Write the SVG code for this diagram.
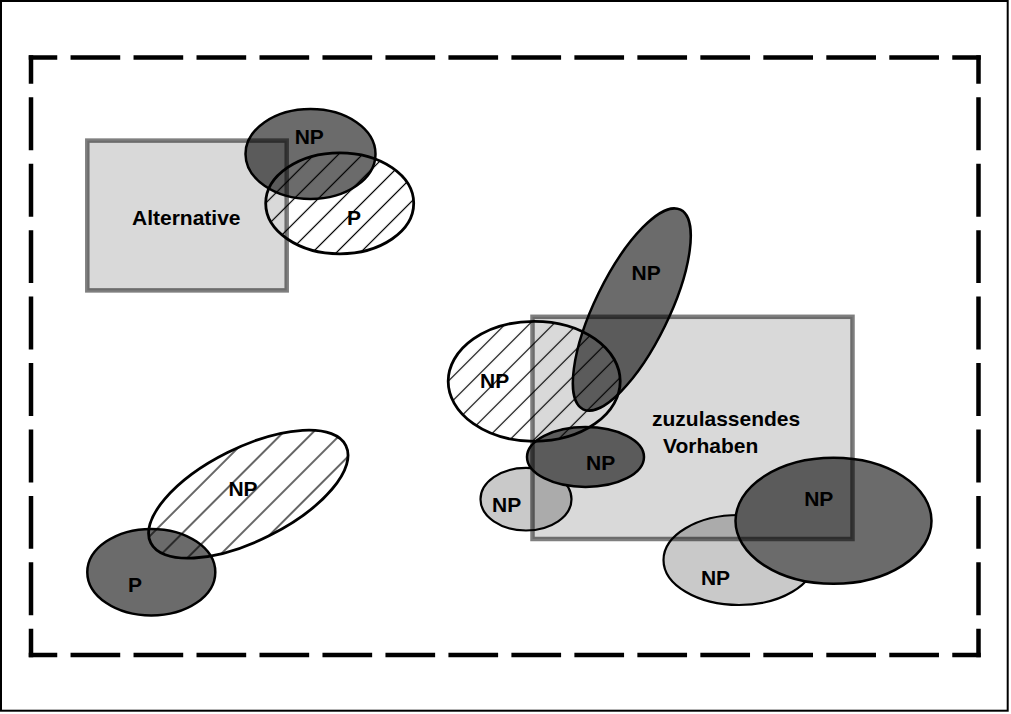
<svg xmlns="http://www.w3.org/2000/svg" width="1011" height="714" viewBox="0 0 1011 714">
<defs>
<pattern id="hatch" patternUnits="userSpaceOnUse" width="17" height="17" patternTransform="rotate(45)">
<line x1="8.5" y1="0" x2="8.5" y2="17" stroke="#000" stroke-width="1.2"/>
</pattern>
<pattern id="hatch-wide" patternUnits="userSpaceOnUse" width="21" height="21" patternTransform="rotate(45)">
<line x1="2" y1="0" x2="2" y2="21" stroke="#000" stroke-width="1.2"/>
</pattern>
</defs>
<style>
.frame{fill:none;stroke:#000;stroke-width:2}
.dash{stroke:#000;stroke-width:4.5;fill:none}
.light{fill:#c9c9c9;stroke:#000;stroke-width:2.2}
.dark{fill:#6b6b6b;stroke:#000;stroke-width:2.5}
.hatched{fill:url(#hatch);stroke:#000;stroke-width:2.8}
.hatched-wide{fill:url(#hatch-wide);stroke:#000;stroke-width:2.8}
.area{fill:#000;fill-opacity:0.15;stroke:#000;stroke-opacity:0.5;stroke-width:4.5}
text{font-family:"Liberation Sans",Arial,sans-serif;font-weight:bold;font-size:21px;fill:#000}
.m{text-anchor:middle}
</style>
<rect width="1011" height="714" fill="#fff"/>
<rect class="frame" x="1" y="1" width="1006.7" height="709.7"/>
<g id="boundary">
<line class="dash" x1="28.75" y1="57.5" x2="980.75" y2="57.5" stroke-dasharray="49.68 13.3" stroke-dashoffset="21.18"/>
<line class="dash" x1="28.75" y1="655" x2="980.75" y2="655" stroke-dasharray="49.68 13.3" stroke-dashoffset="21.18"/>
<line class="dash" x1="31" y1="55.25" x2="31" y2="657.25" stroke-dasharray="52.94 13.5" stroke-dashoffset="24.44"/>
<line class="dash" x1="978.5" y1="55.25" x2="978.5" y2="657.25" stroke-dasharray="52.94 13.5" stroke-dashoffset="24.44"/>
</g>
<g id="connectors"/>
<g id="np-light-small">
<ellipse class="light" cx="526" cy="499.2" rx="45.5" ry="31.3"/>
<text class="m" x="506.7" y="511.7">NP</text>
</g>
<g id="np-light-bottom">
<ellipse class="light" cx="739" cy="560" rx="75.5" ry="45"/>
<text class="m" x="715.5" y="585">NP</text>
</g>
<g id="np-dark-topleft">
<ellipse class="dark" cx="310.5" cy="154" rx="65" ry="45"/>
<text class="m" x="309.3" y="144.3">NP</text>
</g>
<g id="np-dark-tall">
<ellipse class="dark" cx="631.8" cy="309.5" rx="37" ry="111" transform="rotate(26 631.8 309.5)"/>
<text class="m" x="646.2" y="280">NP</text>
</g>
<g id="np-dark-mid">
<ellipse class="dark" cx="585.5" cy="457" rx="58.5" ry="30"/>
<text class="m" x="600.7" y="470">NP</text>
</g>
<g id="np-dark-bottomright">
<ellipse class="dark" cx="833.5" cy="520.8" rx="98" ry="63"/>
<text class="m" x="818.8" y="506">NP</text>
</g>
<g id="p-dark-bottomleft">
<ellipse class="dark" cx="151.3" cy="572.2" rx="64" ry="43.3"/>
<text class="m" x="135" y="591.7">P</text>
</g>
<g id="p-hatched-topleft">
<ellipse class="hatched" cx="339.7" cy="203.3" rx="74" ry="50.5"/>
<text class="m" x="354" y="225">P</text>
</g>
<g id="np-hatched-right">
<ellipse class="hatched" cx="534.2" cy="381.3" rx="86" ry="60"/>
<text class="m" x="494.7" y="388.3">NP</text>
</g>
<g id="np-hatched-bottomleft">
<path class="hatched-wide" d="M150.75 542.84 A109 46.5 -26.5 1 1 345.85 445.56 A109 46.5 -26.5 1 1 150.75 542.84 Z"/>
<text class="m" x="243" y="496">NP</text>
</g>
<g id="alternative">
<rect class="area" x="87.3" y="140.6" width="199.4" height="149.8"/>
<text x="132" y="225">Alternative</text>
</g>
<g id="vorhaben">
<rect class="area" x="532.5" y="316.8" width="320" height="222.2"/>
<text x="652" y="426">zuzulassendes</text>
<text x="663" y="452.7">Vorhaben</text>
</g>
</svg>
